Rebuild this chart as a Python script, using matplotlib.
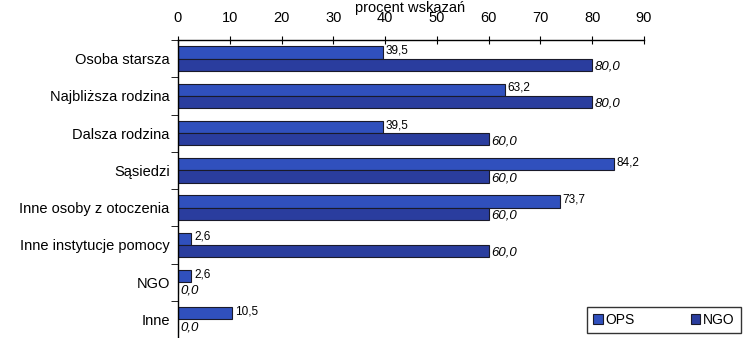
import matplotlib
matplotlib.use("Agg")
import matplotlib.pyplot as plt
import numpy as np

categories = ["Osoba starsza", "Najbliższa rodzina", "Dalsza rodzina", "Sąsiedzi",
              "Inne osoby z otoczenia", "Inne instytucje pomocy", "NGO", "Inne"]
ops = [39.5, 63.2, 39.5, 84.2, 73.7, 2.6, 2.6, 10.5]
ngo = [80.0, 80.0, 60.0, 60.0, 60.0, 60.0, 0.0, 0.0]
xticks = [0, 10, 20, 30, 40, 50, 60, 70, 80, 90]

plt.rcParams['font.family'] = ['Liberation Sans', 'DejaVu Sans']

fig = plt.figure(figsize=(7.44, 3.38), dpi=100)
ax = fig.add_axes([178/744, 0.0, (644-178)/744, 1 - 40/338])

n = len(categories)
y = np.arange(n)
h = 0.33
c_ops = "#3050bd"
c_ngo = "#2a3d9e"
ax.barh(y - h/2, ops, height=h, color=c_ops, edgecolor="#1a1a2a", linewidth=0.8, label="OPS")
ax.barh(y + h/2, ngo, height=h, color=c_ngo, edgecolor="#1a1a2a", linewidth=0.8, label="NGO")

for i in range(n):
    ax.text(ops[i] + 0.5, y[i] - h/2 - 0.05, f"{ops[i]:.1f}".replace(".", ","),
            fontsize=8.5, va="center", ha="left")
    ax.text(ngo[i] + 0.5, y[i] + h/2 + 0.05, f"{ngo[i]:.1f}".replace(".", ","),
            fontsize=9.5, va="center", ha="left", style="italic")

ax.set_xlim(0, 90)
ax.set_ylim(n - 0.5, -0.5)
ax.xaxis.tick_top()
ax.set_xticks(xticks)
ax.tick_params(axis="x", direction="inout", length=6, labelsize=10.5, pad=8)
ax.set_yticks(y)
ax.set_yticklabels(categories, fontsize=10.5)
ax.tick_params(axis="y", length=0, pad=6)
ax.set_yticks(np.arange(n + 1) - 0.5, minor=True)
ax.tick_params(axis="y", which="minor", length=5, direction="out")
for s in ["right", "bottom"]:
    ax.spines[s].set_visible(False)
ax.spines["top"].set_linewidth(1.0)
ax.spines["left"].set_linewidth(1.0)

fig.text(410/744, 1 - 8/338, "procent wskazań", ha="center", va="center", fontsize=10.5)

leg = ax.legend(loc="lower right", bbox_to_anchor=(741/744, 5/338), bbox_transform=fig.transFigure,
                ncol=2, frameon=True, fancybox=False, edgecolor="black", fontsize=10,
                handlelength=0.7, handleheight=0.7, handletextpad=0.2, columnspacing=4.0,
                borderpad=0.45, borderaxespad=0)
leg.get_frame().set_linewidth(1.0)

fig.savefig("out.png", dpi=100)
